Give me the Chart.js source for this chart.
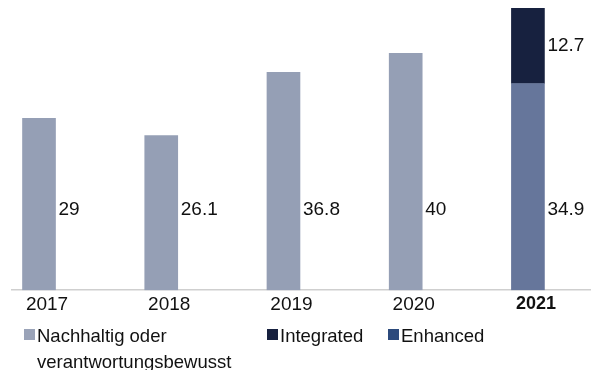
<!DOCTYPE html>
<html>
<head>
<meta charset="utf-8">
<script src="https://cdn.jsdelivr.net/npm/chart.js@4"></script>
<style>
  body { margin: 0; background: #fff; }
  #wrap { position: relative; width: 591px; height: 370px; }
  #legend { position: absolute; left: 0; top: 0; width: 591px; height: 370px; pointer-events: none;
            font-family: "Liberation Sans", Arial, sans-serif; font-size: 18.5px; color: #111; }
  .item { position: absolute; top: 323px; line-height: 26px; }
  .box { position: absolute; left: 0; top: 6px; width: 11px; height: 11px; }
  .txt { position: absolute; left: 13px; top: 0; white-space: nowrap; }
</style>
</head>
<body>
<div id="wrap">
  <canvas id="chart1" width="591" height="370"></canvas>
  <div id="legend"></div>
</div>
<script>
const years = ['2017', '2018', '2019', '2020', '2021'];
const nachhaltig = [29, 26.1, 36.8, 40, null];
const enhanced = [null, null, null, null, 34.9];
const integrated = [null, null, null, null, 12.7];

const labelLevel = 13.5; // where the base labels sit (y value)

const toPoints = arr => arr.map((v, i) => ({ x: i, y: v }));

const datasets = [
    {
        label: ['Nachhaltig oder', 'verantwortungsbewusst'],
        data: toPoints(nachhaltig),
        backgroundColor: '#959fb5',
        legendColor: '#9aa3b8',
        legendLeft: 24
    },
    {
        label: 'Enhanced',
        data: toPoints(enhanced),
        backgroundColor: '#66769b',
        legendColor: '#2c4a7c',
        legendLeft: 388
    },
    {
        label: 'Integrated',
        data: toPoints(integrated),
        backgroundColor: '#17213f',
        legendColor: '#17213f',
        legendLeft: 267,
        midLabel: true
    }
];

const barLabels = {
    id: 'barLabels',
    afterDatasetsDraw(chart) {
        const ctx = chart.ctx;
        const yScale = chart.scales.y;
        ctx.save();
        ctx.font = '19px "Liberation Sans", Arial, sans-serif';
        ctx.fillStyle = '#111';
        ctx.textAlign = 'left';
        ctx.textBaseline = 'middle';
        chart.data.datasets.forEach((ds, di) => {
            const meta = chart.getDatasetMeta(di);
            meta.data.forEach((bar, i) => {
                const v = ds.data[i].y;
                if (v === null) return;
                const y = ds.midLabel ? (bar.y + bar.base) / 2 : yScale.getPixelForValue(labelLevel);
                ctx.fillText(String(v), bar.x + bar.width / 2 + 3, y);
            });
        });
        ctx.restore();
    }
};

new Chart(document.getElementById('chart1'), {
    type: 'bar',
    data: { datasets: datasets },
    options: {
        responsive: false,
        animation: false,
        layout: { padding: { left: 12, right: 0, top: 0, bottom: 51 } },
        barThickness: 33,
        scales: {
            x: {
                type: 'linear',
                stacked: true,
                offset: false,
                min: -0.221,
                max: 4.516,
                grid: { display: false, drawTicks: false, offset: false },
                border: { display: true, color: '#cfcfcf', width: 1.5 },
                ticks: {
                    stepSize: 1,
                    includeBounds: false,
                    maxRotation: 0,
                    autoSkip: false,
                    padding: 3,
                    labelOffset: 8,
                    color: '#111',
                    callback: value => years[value] ?? '',
                    font: ctx => (ctx.tick && ctx.tick.value === 4)
                        ? { family: '"Liberation Sans", Arial, sans-serif', size: 18, weight: 'bold' }
                        : { family: '"Liberation Sans", Arial, sans-serif', size: 19 }
                }
            },
            y: {
                stacked: true,
                display: false,
                min: 0,
                max: 49
            }
        },
        plugins: {
            legend: { display: false },
            tooltip: { enabled: false }
        }
    },
    plugins: [barLabels]
});

// legend below the chart, built from the datasets
const legendEl = document.getElementById('legend');
datasets.forEach(ds => {
    const item = document.createElement('div');
    item.className = 'item';
    item.style.left = ds.legendLeft + 'px';
    const lines = Array.isArray(ds.label) ? ds.label : [ds.label];
    item.innerHTML = '<div class="box" style="background:' + ds.legendColor + '"></div>' +
        '<div class="txt">' + lines.join('<br>') + '</div>';
    legendEl.appendChild(item);
});
</script>
</body>
</html>
